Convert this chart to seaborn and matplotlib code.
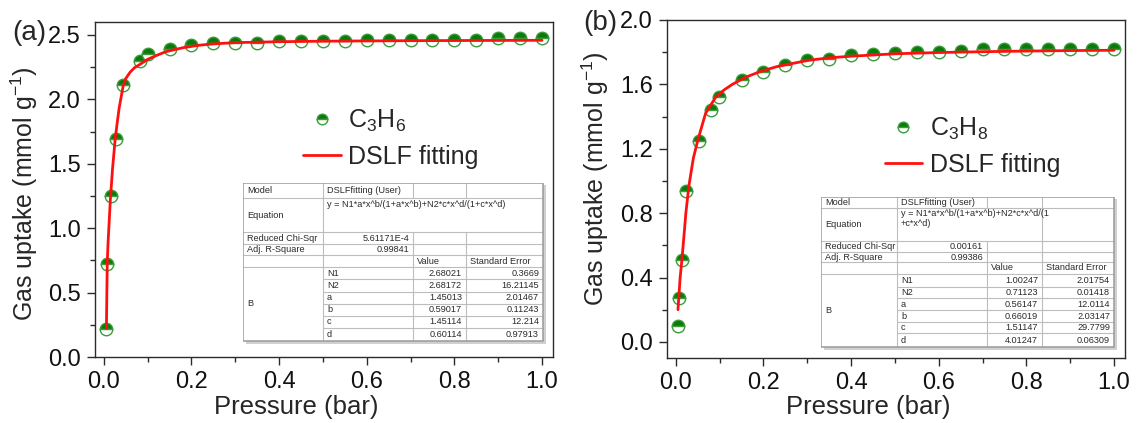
import matplotlib
matplotlib.use("Agg")
import matplotlib.pyplot as plt
import seaborn as sns
from matplotlib.ticker import MultipleLocator, FormatStrFormatter

# ---- measured isotherms -------------------------------------------------
p_c3h6 = [0.006, 0.008, 0.016, 0.027, 0.045, 0.082, 0.10, 0.15, 0.20, 0.25, 0.30, 0.35, 0.40,
          0.45, 0.50, 0.55, 0.60, 0.65, 0.70, 0.75, 0.80, 0.85, 0.90, 0.95, 1.00]
q_c3h6 = [0.22, 0.72, 1.25, 1.69, 2.11, 2.30, 2.355, 2.393, 2.419, 2.437, 2.44, 2.44, 2.45,
          2.456, 2.456, 2.45, 2.464, 2.464, 2.464, 2.464, 2.464, 2.464, 2.472, 2.472, 2.477]

p_c3h8 = [0.005, 0.008, 0.014, 0.023, 0.052, 0.080, 0.099, 0.15, 0.20, 0.25, 0.30, 0.35, 0.40,
          0.45, 0.50, 0.55, 0.60, 0.65, 0.70, 0.75, 0.80, 0.85, 0.90, 0.95, 1.00]
q_c3h8 = [0.10, 0.27, 0.51, 0.94, 1.25, 1.44, 1.52, 1.63, 1.68, 1.72, 1.75, 1.76, 1.78,
          1.79, 1.795, 1.80, 1.80, 1.806, 1.817, 1.817, 1.817, 1.817, 1.817, 1.817, 1.817]

# ---- DSLF fitted curves ---------------------------------------------------
fit_p_c3h6 = [0.006, 0.008, 0.01, 0.015, 0.02, 0.026, 0.03, 0.035, 0.044, 0.05, 0.06, 0.07,
              0.082, 0.10, 0.12, 0.142, 0.18, 0.218, 0.25, 0.30, 0.40, 0.50, 0.60, 0.70,
              0.80, 0.90, 1.00]
fit_q_c3h6 = [0.22, 0.74, 0.90, 1.22, 1.46, 1.69, 1.80, 1.93, 2.10, 2.16, 2.21, 2.245,
              2.27, 2.31, 2.34, 2.37, 2.40, 2.42, 2.43, 2.44, 2.447, 2.451, 2.453, 2.455,
              2.456, 2.457, 2.458]

fit_p_c3h8 = [0.005, 0.01, 0.014, 0.02, 0.023, 0.03, 0.04, 0.05, 0.068, 0.091, 0.11, 0.129,
              0.16, 0.19, 0.23, 0.266, 0.304, 0.35, 0.40, 0.50, 0.60, 0.70, 0.80, 0.90, 1.00]
fit_q_c3h8 = [0.20, 0.40, 0.51, 0.70, 0.80, 0.97, 1.14, 1.25, 1.42, 1.52, 1.565, 1.60,
              1.645, 1.677, 1.71, 1.73, 1.75, 1.765, 1.775, 1.79, 1.798, 1.803, 1.807, 1.81,
              1.812]

# ---- fit report tables ----------------------------------------------------
param_names = ["N1", "N2", "a", "b", "c", "d"]
c3h6_values = ["2.68021", "2.68172", "1.45013", "0.59017", "1.45114", "0.60114"]
c3h6_errors = ["0.3669", "16.21145", "2.01467", "0.11243", "12.214", "0.97913"]
c3h6_chi, c3h6_r2 = "5.61171E-4", "0.99841"
c3h8_values = ["1.00247", "0.71123", "0.56147", "0.66019", "1.51147", "4.01247"]
c3h8_errors = ["2.01754", "0.01418", "12.0114", "2.03147", "29.7799", "0.06309"]
c3h8_chi, c3h8_r2 = "0.00161", "0.99386"

# ---- styling --------------------------------------------------------------
sns.set_style("ticks")
plt.rcParams["font.family"] = ["Liberation Sans", "DejaVu Sans"]
plt.rcParams["mathtext.default"] = "regular"

FILL = "#0a7a0a"
EDGE = "#3c9c3c"
RED = "#ff1010"
AX = "#2b2b2b"

W_PX, H_PX = 1139, 423
fig = plt.figure(figsize=(W_PX / 100, H_PX / 100), dpi=100)


def px_axes(left, top, right, bottom):
    return fig.add_axes([left / W_PX, 1 - bottom / H_PX,
                         (right - left) / W_PX, (bottom - top) / H_PX])


def style_axes(ax, y_major, y_minor, ylim, ylabel):
    ax.set_xlim(-0.02, 1.025)
    ax.set_ylim(*ylim)
    ax.xaxis.set_major_locator(MultipleLocator(0.2))
    ax.xaxis.set_minor_locator(MultipleLocator(0.1))
    ax.yaxis.set_major_locator(MultipleLocator(y_major))
    ax.yaxis.set_minor_locator(MultipleLocator(y_minor))
    ax.xaxis.set_major_formatter(FormatStrFormatter("%.1f"))
    ax.yaxis.set_major_formatter(FormatStrFormatter("%.1f"))
    ax.tick_params(which="major", direction="out", length=6, width=1.0, color=AX,
                   labelsize=17, pad=4, labelcolor="#111111")
    ax.tick_params(which="minor", direction="out", length=3.5, width=1.0, color=AX)
    ax.tick_params(top=False, right=False, which="both")
    for s in ax.spines.values():
        s.set_visible(True)
        s.set_color(AX)
        s.set_linewidth(1.0)
    ax.set_xlabel("Pressure (bar)", fontsize=18.5)
    ax.set_ylabel(ylabel, fontsize=18)
    ax.grid(False)


def draw_isotherm(ax, p, q, fp, fq, gas_label):
    sns.lineplot(x=p, y=q, ax=ax, color=FILL, linestyle="", marker="o", markersize=9,
                 fillstyle="top", markerfacecolor=FILL, markerfacecoloralt="white",
                 markeredgecolor=EDGE, markeredgewidth=1.0, label=gas_label,
                 estimator=None, sort=False)
    sns.lineplot(x=fp, y=fq, ax=ax, color=RED, linewidth=2.0, label="DSLF fitting",
                 estimator=None, sort=False)


def draw_fit_table(box, col_x, row_y, eq_lines, eq_span_all, chi, r2, values, errors):
    left, top, right, bottom = box
    tax = px_axes(left, top, right + 3, bottom + 3)
    w, h = right - left, bottom - top
    tax.set_xlim(0, w + 3)
    tax.set_ylim(h + 3, 0)
    tax.axis("off")
    tax.patch.set_alpha(0)
    # soft drop shadow, white body, then the grid and the frame on top
    tax.add_patch(plt.Rectangle((2.5, 2.5), w, h, facecolor="#d0d0d0", edgecolor="none", zorder=0))
    tax.add_patch(plt.Rectangle((0, 0), w, h, facecolor="white", edgecolor="none", zorder=1))
    tax.add_patch(plt.Rectangle((0, 0), w, h, facecolor="none", edgecolor="#9a9a9a",
                                linewidth=1.1, zorder=3))
    x0, x1, x2, x3, x4 = [c - left for c in col_x]
    ys = [r - top for r in row_y]
    grid = "#bdbdbd"
    lw = 0.8
    for i in range(1, 6):
        tax.plot([x0, x4], [ys[i], ys[i]], color=grid, lw=lw, zorder=2)
    for i in range(6, 11):
        tax.plot([x1, x4], [ys[i], ys[i]], color=grid, lw=lw, zorder=2)
    tax.plot([x1, x1], [ys[0], ys[11]], color=grid, lw=lw, zorder=2)
    for xv in (x2, x3):
        tax.plot([xv, xv], [ys[0], ys[1]], color=grid, lw=lw, zorder=2)
        tax.plot([xv, xv], [ys[2], ys[11]], color=grid, lw=lw, zorder=2)
    if not eq_span_all:
        tax.plot([x3, x3], [ys[1], ys[2]], color=grid, lw=lw, zorder=2)

    fs = 6.6
    tc = "#2a2a2a"
    pad = 4

    def cell_text(x, ya, yb, s, ha="left"):
        tax.text(x, (ya + yb) / 2, s, ha=ha, va="center", fontsize=fs, color=tc, zorder=4)

    cell_text(x0 + pad, ys[0], ys[1], "Model")
    cell_text(x1 + pad, ys[0], ys[1], "DSLFfitting (User)")
    cell_text(x0 + pad, ys[1], ys[2], "Equation")
    for k, line in enumerate(eq_lines):
        tax.text(x1 + pad, ys[1] + 1.5 + k * 9.5, line, ha="left", va="top", fontsize=fs,
                 color=tc, zorder=4)
    cell_text(x0 + pad, ys[2], ys[3], "Reduced Chi-Sqr")
    cell_text(x2 - pad, ys[2], ys[3], chi, ha="right")
    cell_text(x0 + pad, ys[3], ys[4], "Adj. R-Square")
    cell_text(x2 - pad, ys[3], ys[4], r2, ha="right")
    cell_text(x2 + pad, ys[4], ys[5], "Value")
    cell_text(x3 + pad, ys[4], ys[5], "Standard Error")
    cell_text(x0 + pad, ys[5], ys[11], "B")
    for i, (n, v, e) in enumerate(zip(param_names, values, errors)):
        cell_text(x1 + pad, ys[5 + i], ys[6 + i], n)
        cell_text(x3 - pad, ys[5 + i], ys[6 + i], v, ha="right")
        cell_text(x4 - pad, ys[5 + i], ys[6 + i], e, ha="right")


LEG = dict(loc="upper left", frameon=False, fontsize=18, handlelength=1.5,
           handletextpad=0.3, labelspacing=0.45, borderpad=0, borderaxespad=0,
           markerscale=0.85)

# ---- panel (a): propylene -------------------------------------------------
ax1 = px_axes(95, 22, 553, 357)
draw_isotherm(ax1, p_c3h6, q_c3h6, fit_p_c3h6, fit_q_c3h6, "C$_3$H$_6$")
style_axes(ax1, 0.5, 0.25, (0.0, 2.6), "Gas uptake (mmol g$^{-1}$)")
ax1.yaxis.set_label_coords(-0.12, 0.487)
ax1.xaxis.set_label_coords(0.44, -0.112)
ax1.legend(bbox_to_anchor=(0.455, 0.745), **LEG)

# ---- panel (b): propane ---------------------------------------------------
ax2 = px_axes(667, 20, 1125, 358)
draw_isotherm(ax2, p_c3h8, q_c3h8, fit_p_c3h8, fit_q_c3h8, "C$_3$H$_8$")
style_axes(ax2, 0.4, 0.2, (-0.1, 2.0), "Gas uptake (mmol g$^{-1}$)")
ax2.yaxis.set_label_coords(-0.122, 0.53)
ax2.xaxis.set_label_coords(0.44, -0.109)
ax2.legend(bbox_to_anchor=(0.475, 0.717), **LEG)

fig.text(12 / W_PX, 1 - 33 / H_PX, "(a)", fontsize=20, ha="left", va="center")
fig.text(583 / W_PX, 1 - 23 / H_PX, "(b)", fontsize=20, ha="left", va="center")

draw_fit_table((243, 183, 543, 341),
               (243, 323, 413, 466, 543),
               (183, 198, 232, 244, 255, 267, 279, 292, 304, 316, 328, 341),
               ["y = N1*a*x^b/(1+a*x^b)+N2*c*x^d/(1+c*x^d)"], True,
               c3h6_chi, c3h6_r2, c3h6_values, c3h6_errors)
draw_fit_table((821, 197, 1114, 347),
               (821, 897, 987, 1042, 1114),
               (197, 208, 241, 252, 262, 274, 287, 298, 310, 322, 333, 347),
               ["y = N1*a*x^b/(1+a*x^b)+N2*c*x^d/(1", "+c*x^d)"], False,
               c3h8_chi, c3h8_r2, c3h8_values, c3h8_errors)

fig.savefig("out.png", dpi=100)
